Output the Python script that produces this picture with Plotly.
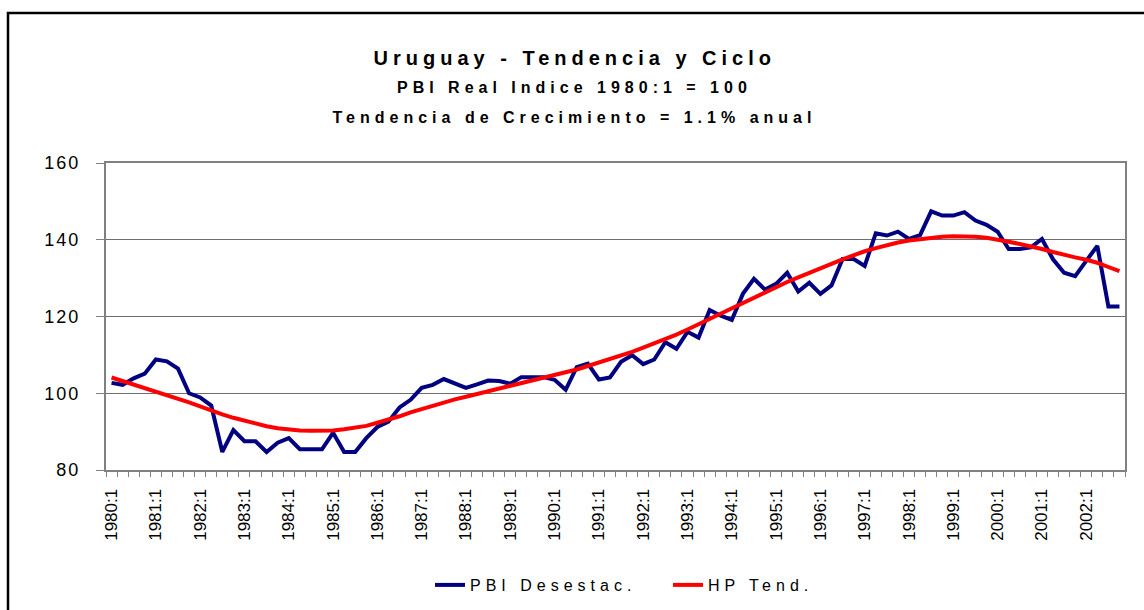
import plotly.graph_objects as go

years = list(range(1980, 2003))
quarters = [f"{y}:{q}" for y in years for q in (1, 2, 3, 4)]

pbi_desestac = [
    102.7, 102.2, 103.9, 105.1, 108.8, 108.3, 106.4, 100.0,
    98.9, 96.8, 84.7, 90.4, 87.5, 87.5, 84.7, 87.1,
    88.3, 85.4, 85.4, 85.4, 89.7, 84.7, 84.7, 88.3,
    91.2, 92.6, 96.3, 98.3, 101.4, 102.2, 103.7, 102.6,
    101.4, 102.3, 103.3, 103.2, 102.5, 104.2, 104.2, 104.2,
    103.5, 100.9, 106.8, 107.7, 103.6, 104.1, 108.2, 109.9,
    107.6, 108.8, 113.3, 111.6, 116.0, 114.5, 121.7, 120.2,
    119.1, 125.9, 129.8, 127.0, 128.5, 131.4, 126.5, 128.8,
    125.9, 128.1, 135.0, 135.0, 133.2, 141.7, 141.1, 142.1,
    140.2, 141.2, 147.4, 146.3, 146.3, 147.2, 145.0, 143.9,
    142.1, 137.6, 137.6, 138.0, 140.2, 134.9, 131.4, 130.5,
    134.5, 138.4, 122.6, 122.6,
]

hp_tend = [
    104.1, 103.2, 102.3, 101.4, 100.4, 99.4, 98.5, 97.6,
    96.6, 95.5, 94.5, 93.6, 92.8, 92.0, 91.4, 90.9,
    90.5, 90.3, 90.2, 90.2, 90.3, 90.6, 91.0, 91.5,
    92.3, 93.1, 94.0, 95.0, 95.9, 96.8, 97.6, 98.4,
    99.1, 99.8, 100.6, 101.3, 101.9, 102.6, 103.2, 103.9,
    104.6, 105.4, 106.2, 107.1, 108.0, 108.9, 109.8, 110.8,
    111.9, 113.0, 114.1, 115.3, 116.6, 118.0, 119.4, 120.8,
    122.2, 123.6, 125.0, 126.4, 127.7, 129.0, 130.2, 131.3,
    132.5, 133.7, 134.9, 136.0, 137.0, 137.8, 138.6, 139.3,
    139.8, 140.2, 140.6, 140.8, 140.9, 140.9, 140.8, 140.5,
    140.1, 139.5, 138.9, 138.3, 137.6, 136.8, 136.0, 135.4,
    134.8, 134.0, 132.9, 131.8,
]

tick_text = [q if q.endswith(":1") else "" for q in quarters]

title_lines = [
    "Uruguay - Tendencia y Ciclo",
    "PBI Real Indice 1980:1 = 100",
    "Tendencia de Crecimiento = 1.1% anual",
]

W, H = 1144, 610
L, R, T, B = 106, 1125, 163, 470
FONT = "Liberation Sans, Arial, sans-serif"


def px_x(x):
    return (x - L) / (R - L)


def px_y(y):
    return (B - y) / (B - T)


fig = go.Figure()
fig.add_trace(go.Scatter(
    x=quarters, y=pbi_desestac, mode="lines", name="PBI Desestac.",
    line=dict(color="#000080", width=4),
))
fig.add_trace(go.Scatter(
    x=quarters, y=hp_tend, mode="lines", name="HP Tend.",
    line=dict(color="#FF0000", width=4),
))

annotations = []
for text, ypix, size in zip(title_lines, [58, 88, 118], [20, 16, 16]):
    annotations.append(dict(
        text=f"<b>{text}</b>", x=px_x(574), xref="paper", y=px_y(ypix), yref="paper",
        xanchor="center", yanchor="middle", showarrow=False,
        font=dict(family=FONT, size=size, color="black"),
    ))

fig.update_layout(
    width=W, height=H,
    margin=dict(l=L, r=W - R, t=T, b=H - B, autoexpand=False),
    paper_bgcolor="white", plot_bgcolor="white",
    font=dict(family=FONT, color="black"),
    showlegend=True,
    legend=dict(
        orientation="h", x=px_x(430), xanchor="left", y=px_y(585), yanchor="middle",
        font=dict(family=FONT, size=16, color="black"),
        entrywidth=193, entrywidthmode="pixels",
        bgcolor="rgba(0,0,0,0)",
    ),
    annotations=annotations,
    shapes=[dict(
        type="rect", xref="paper", yref="paper",
        x0=px_x(8), x1=px_x(1170), y0=px_y(640), y1=px_y(13),
        line=dict(color="black", width=2.5), fillcolor="rgba(0,0,0,0)", layer="below",
    )],
)

fig.update_xaxes(
    type="category", range=[-0.5, len(quarters) - 0.5],
    tickmode="array", tickvals=quarters, ticktext=tick_text,
    tickson="boundaries", ticks="outside", ticklen=5, tickcolor="#808080", tickwidth=1,
    tickangle=-90, tickfont=dict(family=FONT, size=17, color="black"),
    ticklabelstandoff=10,
    showgrid=False, showline=True, linecolor="#808080", linewidth=2, mirror=True,
    zeroline=False,
)
fig.update_yaxes(
    range=[80, 160], tickmode="linear", tick0=80, dtick=20,
    ticks="outside", ticklen=8, tickcolor="#808080", tickwidth=1,
    tickfont=dict(family=FONT, size=18, color="black"),
    ticklabelstandoff=12,
    showgrid=True, gridcolor="#6e6e6e", gridwidth=1,
    showline=True, linecolor="#808080", linewidth=2, mirror=True,
    zeroline=False,
)

post = """
var s = document.createElement('style');
s.textContent = 'html,body{margin:0;padding:0;} .annotation-text{letter-spacing:5px;} .legendtext{letter-spacing:5px;} .ytick text{letter-spacing:2px;}';
document.head.appendChild(s);
"""

fig.write_html("out.html", post_script=post, config={"displayModeBar": False})
